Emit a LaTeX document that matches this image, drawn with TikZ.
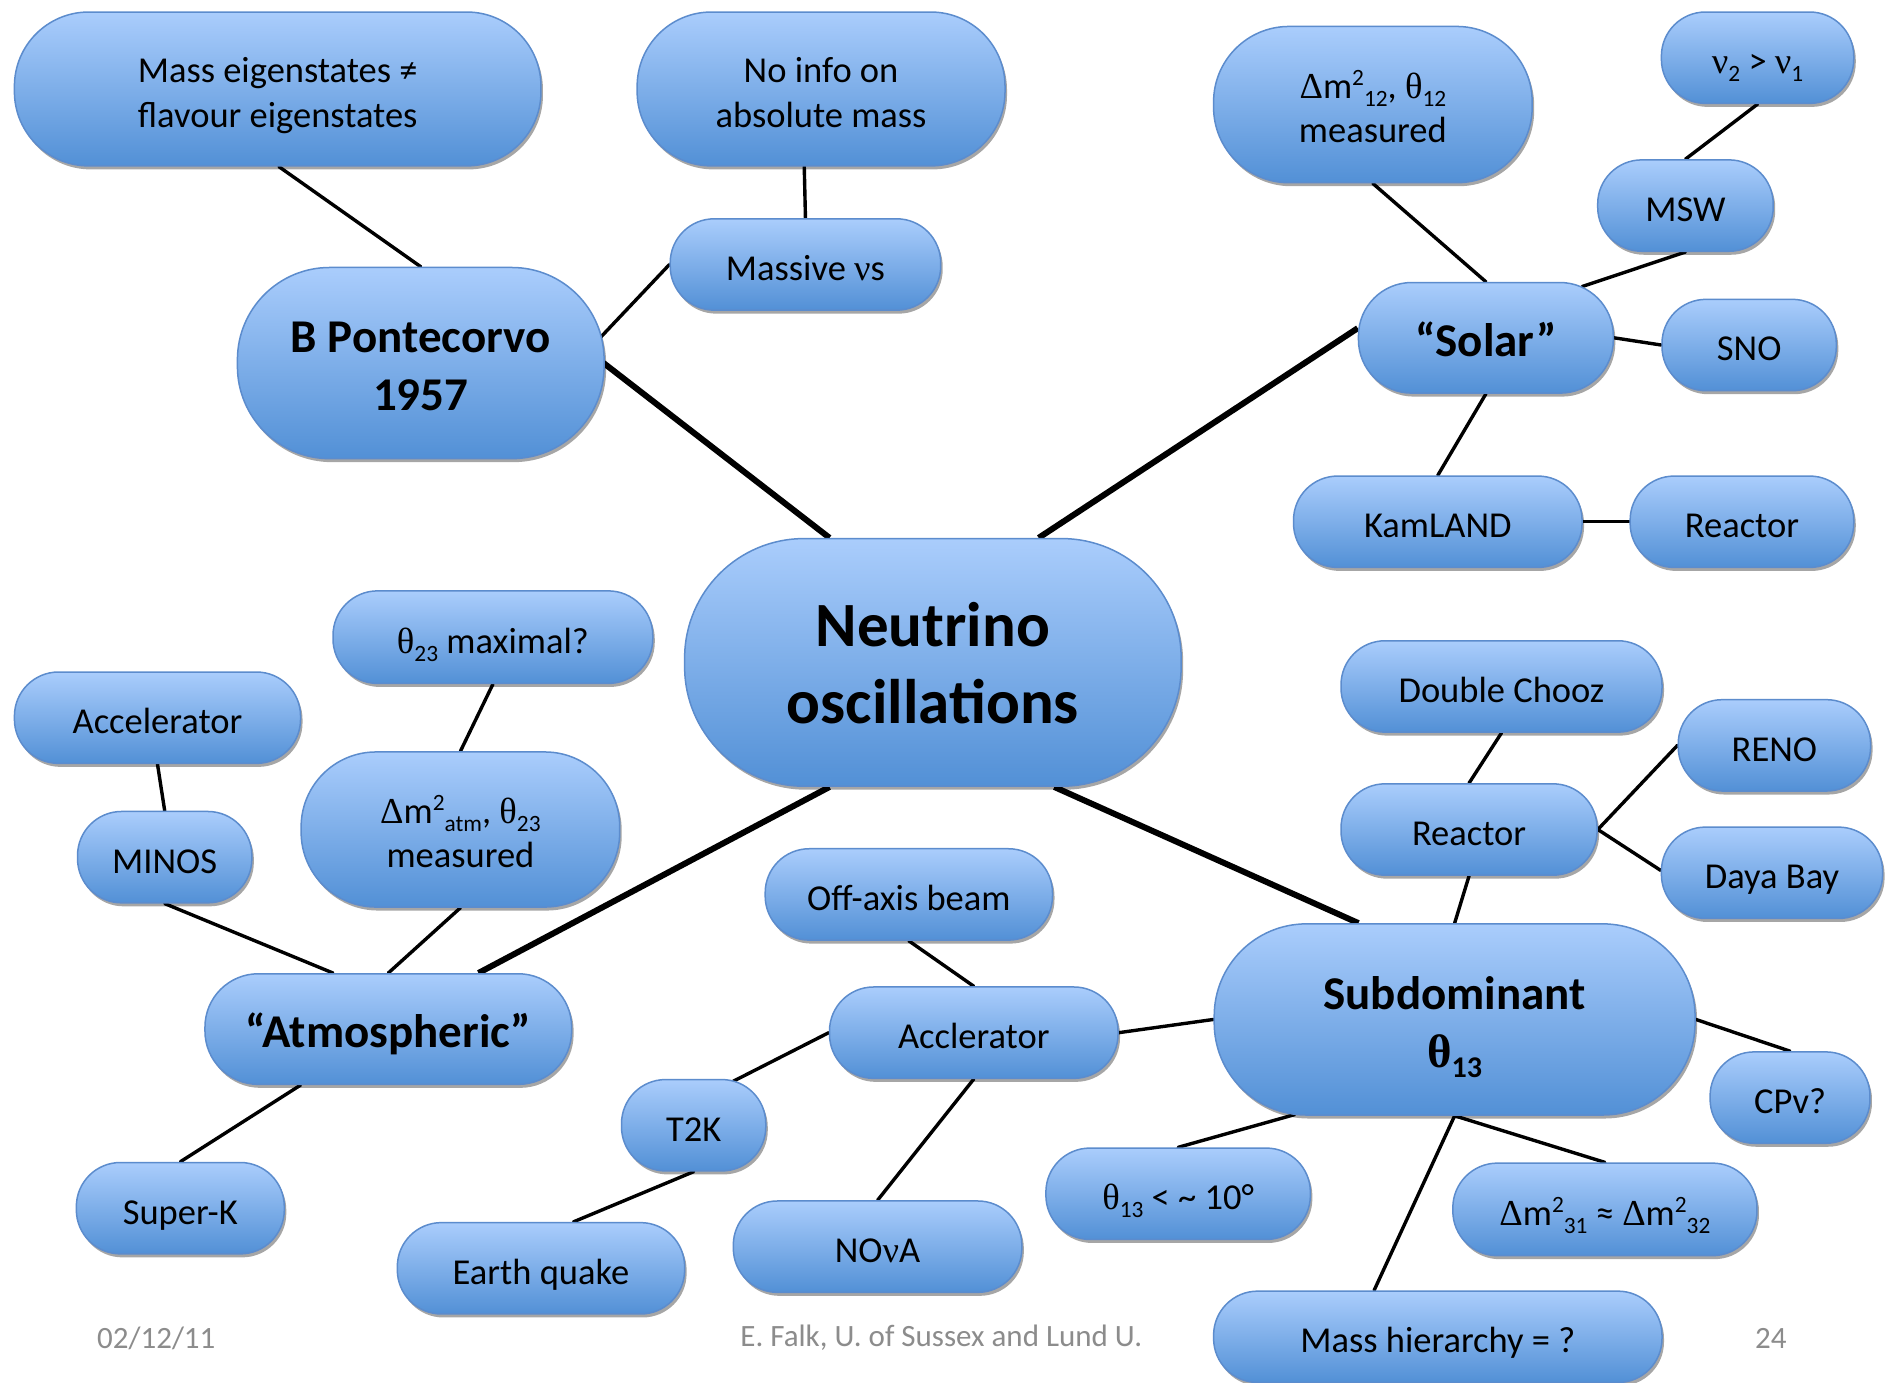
\documentclass[tikz,border=0pt]{standalone}
\usepackage{fontspec}
\usepackage{graphicx}
\setmainfont{Carlito}
\newfontfamily\grk{Liberation Serif}
\usetikzlibrary{shadows,backgrounds,calc}
\definecolor{bubtop}{RGB}{170,205,252}
\definecolor{bubbot}{RGB}{82,144,214}
\definecolor{bubedge}{RGB}{92,140,205}
\definecolor{footgrey}{RGB}{140,140,140}
\newcommand{\gk}[1]{{\grk #1}}
\newcommand{\sps}[1]{\raisebox{0.36em}{\scalebox{0.64}{#1}}}
\newcommand{\sbs}[1]{\raisebox{-0.22em}{\scalebox{0.64}{#1}}}
\newcommand{\T}[1]{\raisebox{-7pt}[\height][\depth]{\begin{tabular}{@{}c@{}}#1\end{tabular}}}
\tikzset{
  bub/.style 2 args={draw=bubedge, line width=1.5pt, top color=bubtop, bottom color=bubbot,
    minimum width=#1*1.2022pt, minimum height=#2*1.2022pt, rounded corners=#2*0.58pt,
    inner sep=0pt, align=center, font=\fontsize{36.5}{44.5}\selectfont,
    drop shadow={shadow xshift=2pt, shadow yshift=-3.5pt, opacity=0.35, fill=black}},
  bigtxt/.style={font=\bfseries\fontsize{47}{58}\selectfont},
  hugetxt/.style={font=\bfseries\fontsize{63}{77}\selectfont},
  link/.style={line width=3.4pt, line cap=round},
  mainlink/.style={line width=6pt},
  foottxt/.style={font=\fontsize{31}{36}\selectfont, text=footgrey, inner sep=0pt}
}
\begin{document}
\begin{tikzpicture}[x=1.2022pt,y=-1.2022pt]
\useasboundingbox (0,0) rectangle (1568,1150);
% nodes
\node[bub={438}{128}] (me) at (231,74) {\T{Mass eigenstates ≠\\flavour eigenstates}};
\node[bub={306}{128}] (noinfo) at (683,74) {\T{No info on\\absolute mass}};
\node[bub={265}{130}] (d12) at (1142,87) {\T{\gk{Δ}m\sps{2}\sbs{12}, \gk{θ}\sbs{12}\\measured}};
\node[bub={160}{76}] (nu21) at (1462,48) {\T{\gk{ν}\sbs{2} > \gk{ν}\sbs{1}}};
\node[bub={146}{76}] (msw) at (1402,171) {\T{MSW}};
\node[bub={225}{76}] (mnu) at (670,220) {\T{Massive \gk{ν}s}};
\node[bub={305}{159}, bigtxt] (pon) at (350,302) {\T{B Pontecorvo\\1957}};
\node[bub={212}{92}, bigtxt] (sol) at (1236,281) {\T{“Solar”}};
\node[bub={145}{76}] (sno) at (1455,287) {\T{SNO}};
\node[bub={240}{76}] (kam) at (1196,434) {\T{KamLAND}};
\node[bub={186}{76}] (reaA) at (1449,434) {\T{Reactor}};
\node[bub={413}{206}, hugetxt] (neu) at (776,551) {\T{Neutrino\\oscillations}};
\node[bub={266}{77}] (t23) at (410,530) {\T{\gk{θ}\sbs{23} maximal?}};
\node[bub={238}{76}] (acc) at (131,597) {\T{Accelerator}};
\node[bub={267}{76}] (dc) at (1249,571) {\T{Double Chooz}};
\node[bub={160}{76}] (reno) at (1476,620) {\T{RENO}};
\node[bub={265}{129}] (datm) at (383,690) {\T{\gk{Δ}m\sps{2}\sbs{atm}, \gk{θ}\sbs{23}\\measured}};
\node[bub={145}{76}] (minos) at (137,713) {\T{MINOS}};
\node[bub={213}{76}] (reaB) at (1222,690) {\T{Reactor}};
\node[bub={184}{76}] (daya) at (1474,726) {\T{Daya Bay}};
\node[bub={239}{76}] (off) at (756,744) {\T{Off-axis beam}};
\node[bub={400}{159}, bigtxt] (sub) at (1210,848) {\T{Subdominant\\\gk{θ}\sbs{13}}};
\node[bub={305}{92}, bigtxt] (atm) at (323,856) {\T{“Atmospheric”}};
\node[bub={240}{76}] (accl) at (810,859) {\T{Acclerator}};
\node[bub={133}{76}] (cpv) at (1489,913) {\T{CPv?}};
\node[bub={120}{76}] (t2k) at (577,936) {\T{T2K}};
\node[bub={220}{76}] (th13) at (980,993) {\T{\gk{θ}\sbs{13} < \textasciitilde{} 10°}};
\node[bub={253}{77}] (dm31) at (1335,1006) {\T{\gk{Δ}m\sps{2}\sbs{31} ≈ \gk{Δ}m\sps{2}\sbs{32}}};
\node[bub={173}{76}] (superk) at (150,1005) {\T{Super-K}};
\node[bub={239}{76}] (earth) at (450,1055) {\T{Earth quake}};
\node[bub={240}{76}] (nova) at (730,1037) {\T{NO\gk{ν}A}};
\node[bub={373}{76}] (mh) at (1196,1112) {\T{Mass hierarchy = ?}};
% footer
\node[foottxt] (date) at (130,1113) {02/12/11};
\node[foottxt] (auth) at (783,1113) {E. Falk, U. of Sussex and Lund U.};
\node[foottxt] (page) at (1473,1113) {24};
% connectors
\begin{scope}[on background layer]
\fill[white] (0,0) rectangle (1568,1150);
\draw[link] ($(me.south)+(1,0)$) -- (pon.north);
\draw[link] ($(noinfo.south)+(-14,0)$) -- (mnu.north);
\draw[link] (mnu.west) -- ($(pon.east)+(-3,-22)$);
\draw[mainlink] ($(pon.east)+(-1,0)$) -- ($(neu.north)+(-86,0)$);
\draw[link] (d12.south) -- (sol.north);
\draw[link] (nu21.south) -- (msw.north);
\draw[link] (msw.south) -- ($(sol.north)+(80,4)$);
\draw[link] (sol.east) -- (sno.west);
\draw[link] (sol.south) -- (kam.north);
\draw[link] (kam.east) -- (reaA.west);
\draw[mainlink] ($(sol.west)+(0,-8)$) -- ($(neu.north)+(88,0)$);
\draw[link] (t23.south) -- (datm.north);
\draw[link] (acc.south) -- (minos.north);
\draw[link] (minos.south) -- ($(atm.north)+(-46,0)$);
\draw[link] (datm.south) -- (atm.north);
\draw[mainlink] ($(neu.south)+(-86,0)$) -- ($(atm.north)+(75,0)$);
\draw[mainlink] ($(neu.south)+(101,0)$) -- ($(sub.north)+(-80,0)$);
\draw[link] (dc.south) -- (reaB.north);
\draw[link] (reaB.east) -- (reno.west);
\draw[link] (reaB.east) -- ($(daya.west)+(0,-2)$);
\draw[link] (reaB.south) -- (sub.north);
\draw[link] ($(atm.south)+(-73,0)$) -- (superk.north);
\draw[link] (off.south) -- (accl.north);
\draw[link] (accl.east) -- (sub.west);
\draw[link] (accl.west) -- ($(t2k.north)+(33,2)$);
\draw[link] (accl.south) -- (nova.north);
\draw[link] (t2k.south) -- ($(earth.north)+(27,0)$);
\draw[link] (sub.east) -- (cpv.north);
\draw[link] ($(sub.south)+(-133,-1)$) -- (th13.north);
\draw[link] (sub.south) -- (dm31.north);
\draw[link] (sub.south) -- ($(mh.north)+(-53,0)$);
\end{scope}
\end{tikzpicture}
\end{document}
